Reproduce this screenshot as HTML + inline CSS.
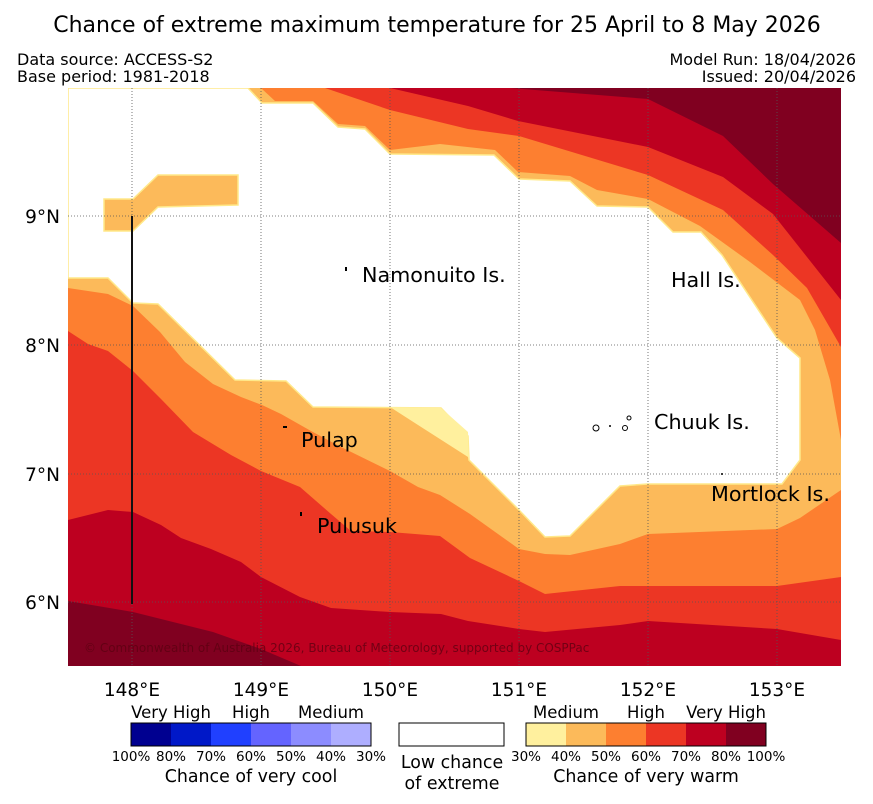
<!DOCTYPE html>
<html><head><meta charset="utf-8"><style>
body{margin:0;background:#fff;}
svg{display:block;font-family:"DejaVu Sans","Liberation Sans",sans-serif;}
</style></head><body>
<svg width="873" height="804" viewBox="0 0 873 804" xmlns="http://www.w3.org/2000/svg">
<text x="437" y="32" font-size="22" text-anchor="middle">Chance of extreme maximum temperature for 25 April to 8 May 2026</text>
<text x="17" y="65" font-size="16">Data source: ACCESS-S2</text>
<text x="17" y="82" font-size="16">Base period: 1981-2018</text>
<text x="856" y="65" font-size="16" text-anchor="end">Model Run: 18/04/2026</text>
<text x="856" y="82" font-size="16" text-anchor="end">Issued: 20/04/2026</text>
<defs><clipPath id="mc"><rect x="68" y="88" width="773" height="578"/></clipPath></defs>
<g clip-path="url(#mc)">
<rect x="68" y="88" width="773" height="578" fill="#fcba5a"/>
<polygon fill="#fff" stroke="#ffe98a" stroke-width="1.5" points="68,88 248,88 262,103 313,103 338,127 365,129 390,154 494,155 519,179 570,181 597,206 648,207 673,232 701,232 722,255 777,338 800,358 800,460 782,484 648,484 620,486 570,536 545,537 519,510 469,460 468,436 441,408 313,407 286,381 235,380 158,304 133,303 108,278 68,278"/>
<polygon fill="#fcba5a" stroke="#ffe98a" stroke-width="1.5" points="104,199 133,199 158,175 238,175 238,205 158,207 133,231 104,231"/>
<polygon fill="#fff09e" points="390,407 441,408 468,432 469,460 468,457 418,425"/>
<polygon fill="#fd7f30" points="261,88 275,101 313,101 338,124 365,126 390,150 440,144 495,150 518,172 570,176 597,190 648,199 700,226 750,262 800,300 815,330 830,380 841,440 841,88"/>
<polygon fill="#ec3624" points="325,88 390,110 468,129 519,136 648,175 723,210 773,255 807,288 841,347 841,88"/>
<polygon fill="#bd0020" points="390,88 468,106 518,121 648,147 723,177 773,214 841,300 841,88"/>
<polygon fill="#800020" points="510,88 648,99 723,136 773,184 841,243 841,88"/>
<polygon fill="#fd7f30" points="68,288 108,294 133,306 160,332 185,362 213,384 241,397 262,405 281,414 311,431 341,447 390,471 418,487 440,495 470,514 519,549 545,554 570,555 620,544 648,534 777,529 800,518 841,490 841,666 68,666"/>
<polygon fill="#ec3624" points="68,331 88,344 108,351 133,371 161,399 193,432 231,455 261,471 300,487 331,514 351,531 390,532 440,536 470,558 519,581 545,594 620,586 777,586 841,577 841,666 68,666"/>
<polygon fill="#bd0020" points="68,520 108,510 133,512 161,525 181,538 211,549 241,562 261,577 300,597 331,608 390,612 441,614 468,621 519,629 545,632 620,625 648,621 777,629 841,640 841,666 68,666"/>
<polygon fill="#800020" points="68,601 133,612 213,632 261,649 301,666 68,666"/>
<g stroke="#555" stroke-width="0.8" stroke-dasharray="1,2">
<line x1="132" y1="88" x2="132" y2="666"/><line x1="261" y1="88" x2="261" y2="666"/><line x1="390" y1="88" x2="390" y2="666"/><line x1="519" y1="88" x2="519" y2="666"/><line x1="648" y1="88" x2="648" y2="666"/><line x1="777" y1="88" x2="777" y2="666"/>
<line x1="68" y1="216" x2="841" y2="216"/><line x1="68" y1="345" x2="841" y2="345"/><line x1="68" y1="474" x2="841" y2="474"/><line x1="68" y1="602" x2="841" y2="602"/>
</g>
<line x1="132" y1="216" x2="132" y2="604" stroke="#111" stroke-width="2"/>
<text x="84" y="652" font-size="12" fill="#5a0010" fill-opacity="0.75">© Commonwealth of Australia 2026, Bureau of Meteorology, supported by COSPPac</text>
<g font-size="20.7">
<text x="362" y="282">Namonuito Is.</text>
<text x="671" y="287">Hall Is.</text>
<text x="654" y="429">Chuuk Is.</text>
<text x="711" y="501">Mortlock Is.</text>
<text x="301" y="447">Pulap</text>
<text x="317" y="533">Pulusuk</text>
</g>
<g fill="#000">
<rect x="345" y="267" width="2" height="4"/><rect x="283" y="426" width="4" height="2"/><rect x="300" y="512" width="2" height="4"/>
<circle cx="596" cy="428" r="3" fill="none" stroke="#000" stroke-width="1"/><circle cx="610" cy="426" r="1"/><circle cx="625" cy="428" r="2.5" fill="none" stroke="#000" stroke-width="1"/><circle cx="629" cy="418" r="2" fill="none" stroke="#000" stroke-width="1"/><circle cx="722" cy="474" r="1"/>
</g>
</g>
<g font-size="18.5" text-anchor="middle">
<text x="132" y="696">148°E</text><text x="261" y="696">149°E</text><text x="390" y="696">150°E</text><text x="519" y="696">151°E</text><text x="648" y="696">152°E</text><text x="777" y="696">153°E</text>
</g>
<g font-size="18.5" text-anchor="end">
<text x="60" y="223">9°N</text><text x="60" y="352">8°N</text><text x="60" y="481">7°N</text><text x="60" y="609">6°N</text>
</g>
<g>
<rect x="131" y="723" width="40" height="23" fill="#000090"/><rect x="171" y="723" width="40" height="23" fill="#0018c8"/><rect x="211" y="723" width="40" height="23" fill="#2040ff"/><rect x="251" y="723" width="40" height="23" fill="#6464ff"/><rect x="291" y="723" width="40" height="23" fill="#8c8cff"/><rect x="331" y="723" width="40" height="23" fill="#aeaeff"/>
<rect x="131" y="723" width="240" height="23" fill="none" stroke="#000" stroke-width="1"/>
<g font-size="16.5" text-anchor="middle"><text x="171" y="718">Very High</text><text x="251" y="718">High</text><text x="331" y="718">Medium</text></g>
<g font-size="13.5" text-anchor="middle"><text x="131" y="761">100%</text><text x="171" y="761">80%</text><text x="211" y="761">70%</text><text x="251" y="761">60%</text><text x="291" y="761">50%</text><text x="331" y="761">40%</text><text x="371" y="761">30%</text></g>
<text x="251" y="782" font-size="17.4" text-anchor="middle">Chance of very cool</text>
</g>
<g>
<rect x="399" y="723" width="105" height="23" fill="#fff" stroke="#000" stroke-width="1"/>
<text x="452" y="768" font-size="17.4" text-anchor="middle">Low chance</text>
<text x="452" y="789" font-size="17.4" text-anchor="middle">of extreme</text>
</g>
<g>
<rect x="526" y="723" width="40" height="23" fill="#fff09e"/><rect x="566" y="723" width="40" height="23" fill="#fcba5a"/><rect x="606" y="723" width="40" height="23" fill="#fd7f30"/><rect x="646" y="723" width="40" height="23" fill="#ec3624"/><rect x="686" y="723" width="40" height="23" fill="#bd0020"/><rect x="726" y="723" width="40" height="23" fill="#800020"/>
<rect x="526" y="723" width="240" height="23" fill="none" stroke="#000" stroke-width="1"/>
<g font-size="16.5" text-anchor="middle"><text x="566" y="718">Medium</text><text x="646" y="718">High</text><text x="726" y="718">Very High</text></g>
<g font-size="13.5" text-anchor="middle"><text x="526" y="761">30%</text><text x="566" y="761">40%</text><text x="606" y="761">50%</text><text x="646" y="761">60%</text><text x="686" y="761">70%</text><text x="726" y="761">80%</text><text x="766" y="761">100%</text></g>
<text x="646" y="782" font-size="17.4" text-anchor="middle">Chance of very warm</text>
</g>
</svg>
</body></html>
